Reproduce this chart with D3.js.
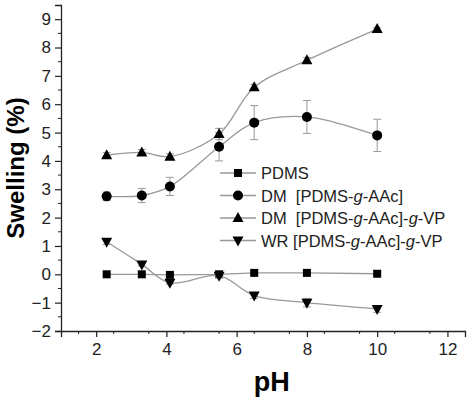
<!DOCTYPE html><html><head><meta charset="utf-8"><script src="https://cdn.jsdelivr.net/npm/d3@7"></script>
<style>body{margin:0;background:#fff}</style></head><body><svg id="c" width="474" height="401"></svg><script>
const ph=[2.3,3.3,4.1,5.5,6.5,8,10];
const pdms=[0,0,-0.02,0,0.05,0.05,0.02];
const dmAAc=[2.75,2.78,3.1,4.5,5.35,5.55,4.9];
const dmAAcErr=[0.15,0.25,0.32,0.5,0.6,0.58,0.57];
const dmVP=[4.2,4.3,4.15,4.95,6.6,7.55,8.65];
const dmVPErr=[0.1,0.1,0.1,0.2,0.1,0.1,0.05];
const wrVP=[1.15,0.35,-0.3,-0.05,-0.75,-1,-1.22];
const wrVPErr=[0.1,0.05,0.05,0.05,0.1,0.15,0.12];
const xTicks=[2,4,6,8,10,12], yTicks=[-2,-1,0,1,2,3,4,5,6,7,8,9];
const names=["PDMS","DM  [PDMS-g-AAc]","DM  [PDMS-g-AAc]-g-VP","WR [PDMS-g-AAc]-g-VP"];
const svg=d3.select("#c");
const x=d3.scaleLinear().domain([1,12.5]).range([61,465]);
const y=d3.scaleLinear().domain([-2,9.5]).range([331,5]);
const F="Liberation Sans, Arial, sans-serif";
const xa=svg.append("g").attr("transform","translate(0,331)").call(d3.axisBottom(x).tickValues(xTicks).tickFormat(d3.format("d")).tickSize(6).tickPadding(6));
const ya=svg.append("g").attr("transform","translate(61,0)").call(d3.axisLeft(y).tickValues(yTicks).tickSize(6).tickPadding(4));
[xa,ya].forEach(a=>{a.selectAll("text").attr("font-family",F).attr("font-size",17).attr("fill","#222");a.select(".domain").attr("stroke","#222").attr("stroke-width",1.3);a.selectAll(".tick line").attr("stroke","#222").attr("stroke-width",1.2);});
d3.range(1.5,12.5,1).filter(v=>v%2!==0).forEach(v=>svg.append("line").attr("x1",x(v)).attr("x2",x(v)).attr("y1",331).attr("y2",334).attr("stroke","#222"));
d3.range(-1.5,9.5,1).forEach(v=>svg.append("line").attr("x1",61).attr("x2",58).attr("y1",y(v)).attr("y2",y(v)).attr("stroke","#222"));
svg.append("text").attr("x",x(7)).attr("y",391).attr("text-anchor","middle").attr("font-family",F).attr("font-weight","bold").attr("font-size",27).text("pH");
svg.append("text").attr("transform","translate(24,168) rotate(-90)").attr("text-anchor","middle").attr("font-family",F).attr("font-weight","bold").attr("font-size",24).text("Swelling (%)");
const series=[{v:pdms,e:null,m:"sq",c:d3.curveLinear},{v:dmAAc,e:dmAAcErr,m:"ci",c:d3.curveCatmullRom},{v:dmVP,e:dmVPErr,m:"up",c:d3.curveCatmullRom},{v:wrVP,e:wrVPErr,m:"dn",c:d3.curveCatmullRom}];
function marker(g,m,cx,cy){
 if(m==="sq")g.append("rect").attr("x",cx-4).attr("y",cy-4).attr("width",8).attr("height",8).attr("fill","#000");
 else if(m==="ci")g.append("circle").attr("cx",cx).attr("cy",cy).attr("r",5).attr("fill","#000");
 else if(m==="up")g.append("path").attr("d",`M${cx},${cy-6}L${cx+5.5},${cy+4}L${cx-5.5},${cy+4}Z`).attr("fill","#000");
 else g.append("path").attr("d",`M${cx},${cy+6}L${cx+5.5},${cy-4}L${cx-5.5},${cy-4}Z`).attr("fill","#000");
}
series.forEach(s=>{
 const pts=ph.map((p,i)=>[p,s.v[i]]);
 svg.append("path").attr("d",d3.line().x(d=>x(d[0])).y(d=>y(d[1])).curve(s.c)(pts)).attr("fill","none").attr("stroke","#999").attr("stroke-width",1.3);
 if(s.e)ph.forEach((p,i)=>{const g=svg.append("g").attr("stroke","#999").attr("stroke-width",1);
  g.append("line").attr("x1",x(p)).attr("x2",x(p)).attr("y1",y(s.v[i]-s.e[i])).attr("y2",y(s.v[i]+s.e[i]));
  [s.v[i]-s.e[i],s.v[i]+s.e[i]].forEach(v=>g.append("line").attr("x1",x(p)-4).attr("x2",x(p)+4).attr("y1",y(v)).attr("y2",y(v)));});
 pts.forEach(d=>marker(svg,s.m,x(d[0]),y(d[1])));
});
series.forEach((s,i)=>{const ly=173+i*22.5;
 svg.append("line").attr("x1",220).attr("x2",256).attr("y1",ly).attr("y2",ly).attr("stroke","#999").attr("stroke-width",1.3);
 marker(svg,s.m,238,ly);
 const t=svg.append("text").attr("x",261).attr("y",ly+6).attr("font-family",F).attr("font-size",16.5).attr("fill","#222").style("white-space","pre");
 names[i].split(/(g)(?=-)/).forEach(p=>t.append("tspan").attr("font-style",p==="g"?"italic":null).text(p));
});
</script></body></html>
